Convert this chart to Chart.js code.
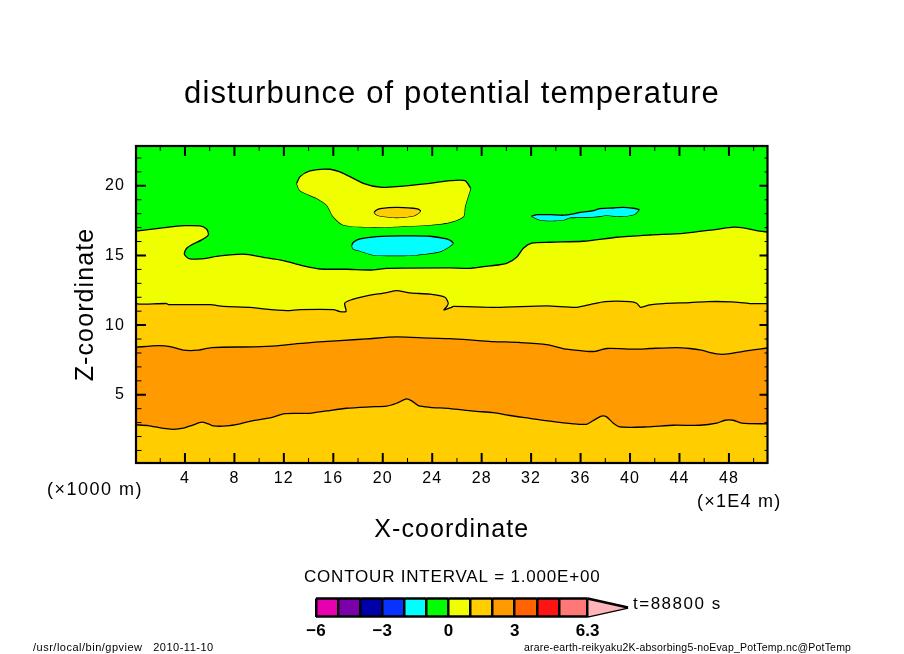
<!DOCTYPE html>
<html>
<head>
<meta charset="utf-8">
<title>disturbunce of potential temperature</title>
<script src="https://cdn.jsdelivr.net/npm/chart.js@4"></script>
<style>
	body { margin: 0; background: #fff; }
	canvas { position: absolute; left: 0; top: 0; }
</style>
</head>
<body>
<canvas id="contour-chart" width="904" height="654"></canvas>
<canvas id="color-bar" width="904" height="654"></canvas>
<script>
const xMinorTicks = [2, 4, 6, 8, 10, 12, 14, 16, 18, 20, 22, 24, 26, 28, 30, 32, 34, 36, 38, 40, 42, 44, 46, 48, 50];
const xTickLabels = [4, 8, 12, 16, 20, 24, 28, 32, 36, 40, 44, 48];
const yMinorTicks = [1, 2, 3, 4, 5, 6, 7, 8, 9, 10, 11, 12, 13, 14, 15, 16, 17, 18, 19, 20, 21, 22];
const yTickLabels = [5, 10, 15, 20];

// contour lines, bottom to top (x in 1E4 m, z in 1000 m)
const line1X = [0, 1.04, 2.12, 3.06, 3.87, 4.68, 5.35, 5.89, 6.3, 7.37, 8.45, 9.53, 10.88, 12.09, 14.11, 15.46, 17.08, 18.97, 20.31, 21.12, 21.93, 22.34, 22.88, 23.82, 25.44, 27.33, 28.94, 30.29, 31.91, 33.53, 35.41, 36.49, 37.03, 37.7, 38.11, 38.65, 39.19, 41.35, 43.5, 45.66, 47.01, 47.68, 48.36, 49.03, 51.2];
const line1Z = [2.84, 2.79, 2.6, 2.52, 2.6, 2.84, 3.03, 2.91, 2.76, 2.76, 2.91, 3.15, 3.34, 3.65, 3.67, 3.84, 4.03, 4.13, 4.18, 4.39, 4.7, 4.56, 4.22, 4.1, 4.01, 3.82, 3.72, 3.51, 3.31, 3.1, 2.91, 2.88, 3.15, 3.46, 3.41, 2.96, 2.69, 2.69, 2.81, 2.81, 2.96, 3.17, 3.17, 2.96, 2.91];

const line2X = [0, 1.85, 2.79, 3.87, 5.08, 6.16, 9.53, 11.42, 13.04, 15.19, 16.54, 18.7, 21.12, 23.82, 25.44, 27.73, 28.94, 31.1, 33.25, 34.87, 36.49, 37.17, 38.11, 40.5, 41.61, 43.77, 44.85, 45.66, 47.01, 47.95, 49.16, 51.2];
const line2Z = [8.41, 8.53, 8.46, 8.2, 8.2, 8.39, 8.44, 8.51, 8.67, 8.82, 8.89, 9.01, 9.15, 9.06, 9.03, 8.89, 8.82, 8.75, 8.6, 8.27, 8.12, 8.12, 8.32, 8.27, 8.32, 8.39, 8.32, 8.22, 7.93, 7.93, 8.12, 8.36];

const line3X = [0, 0.36, 2.52, 2.66, 6.03, 7.1, 9.26, 10.34, 12.23, 13.31, 16, 16.54, 17.03, 16.92, 17.49, 18.43, 20.31, 21.12, 22.2, 23.82, 25.03, 25.3, 25.17, 24.95, 25.57, 25.71, 29.2, 33.26, 35.69, 36.76, 37.98, 40, 40.54, 40.86, 41.6, 42.69, 44.85, 46.33, 48.22, 49.7, 51.2];
const line3Z = [11.57, 11.5, 11.55, 11.47, 11.47, 11.35, 11.28, 11.16, 11.04, 11.11, 11.11, 10.97, 10.99, 11.57, 11.83, 12.05, 12.34, 12.48, 12.31, 12.22, 12, 11.57, 11.33, 11.09, 11.28, 11.35, 11.28, 11.38, 11.28, 11.47, 11.69, 11.69, 11.57, 11.28, 11.45, 11.55, 11.62, 11.69, 11.67, 11.55, 11.55];

const line4X = [0, 1.71, 3.06, 4, 5.22, 5.76, 5.89, 5.35, 4.68, 4.14, 3.95, 4.27, 5.22, 6.83, 8.72, 10.34, 11.96, 13.58, 14.92, 17.08, 19.24, 20.31, 25.44, 27.06, 28.67, 30.02, 30.83, 31.37, 32.04, 33.53, 36.22, 38.92, 41.62, 44.31, 47.01, 48.36, 49.17, 50.24, 51.2];
const line4Z = [16.74, 16.93, 17.07, 17.14, 17.12, 16.88, 16.47, 16.12, 15.83, 15.52, 15.11, 14.8, 14.75, 14.97, 15.09, 14.87, 14.63, 14.25, 14.03, 14.01, 13.96, 14.08, 14.11, 14.08, 14.25, 14.44, 14.87, 15.52, 15.88, 15.95, 16.02, 16.31, 16.47, 16.59, 16.88, 17.03, 16.98, 16.79, 16.67];

// closed contours, split into an upper and a lower edge
const warmTopX = [13.04, 13.31, 14.11, 15.73, 16.81, 18.43, 19.78, 21.12, 23.82, 25.44, 26.65, 27.11];
const warmTopZ = [20.18, 20.66, 21.08, 21.19, 20.9, 20.18, 19.9, 19.94, 20.18, 20.37, 20.37, 19.83];
const warmLowX = [13.04, 13.31, 14.65, 15.46, 16, 16.81, 18.97, 21.12, 23.82, 25.44, 26.52, 26.65, 27.11];
const warmLowZ = [20.18, 19.66, 19.11, 18.63, 17.79, 17.19, 17.03, 17.07, 17.19, 17.38, 17.79, 18.51, 19.83];

const coreTopX = [19.29, 19.5, 19.78, 21.12, 22.47, 22.88, 23.07];
const coreTopZ = [18.1, 18.27, 18.37, 18.46, 18.39, 18.32, 18.2];
const coreLowX = [19.29, 19.5, 19.78, 21.12, 22.47, 22.88, 23.07];
const coreLowZ = [18.1, 17.93, 17.84, 17.72, 17.84, 18.03, 18.2];

const coldTopX = [17.49, 17.62, 18.16, 19.5, 21.66, 23.82, 25.17, 25.55, 25.71];
const coldTopZ = [15.71, 15.95, 16.19, 16.36, 16.4, 16.38, 16.19, 16.03, 15.88];
const coldLowX = [17.49, 17.62, 18.16, 19.24, 21.12, 22.74, 24.63, 25.3, 25.71];
const coldLowZ = [15.71, 15.47, 15.33, 15.04, 14.99, 15.04, 15.28, 15.59, 15.88];

const sliverTopX = [32.04, 32.5, 33.53, 34.61, 35.41, 35.95, 37.03, 37.57, 38.65, 39.46, 40.27, 40.75];
const sliverTopZ = [17.82, 17.93, 17.93, 17.89, 17.98, 18.1, 18.22, 18.37, 18.41, 18.46, 18.39, 18.31];
const sliverLowX = [32.04, 32.72, 33.53, 34.61, 35.15, 36.22, 37.3, 38.11, 38.92, 39.73, 40.4, 40.75];
const sliverLowZ = [17.82, 17.55, 17.5, 17.55, 17.72, 17.74, 17.79, 17.89, 17.82, 17.84, 17.98, 18.31];

// color bar
const barLevels = [-6, -5, -4, -3, -2, -1, 0, 1, 2, 3, 4, 5, 6.3];
const barLabels = [-6, -3, 0, 3, 6.3];
const barTip = 8.13;
const barColors = ["#e600af", "#7a00aa", "#0000aa", "#0a32ff", "#00ffff", "#00ff00", "#f0ff00", "#ffcd00", "#ff9b00", "#ff6400", "#ff1414", "#ff7878"];
const tipColor = "#ffb4b9";

const GREEN = "#00ff00";
const CYAN = "#00ffff";
const YELLOW = "#f0ff00";
const GOLD = "#ffcd00";
const ORANGE = "#ff9b00";
const FONT = "'Liberation Sans', sans-serif";

function points(xs, zs) {
	return xs.map((x, i) => ({ x: x, y: zs[i] }));
}

function contour(xs, zs, fill, color) {
	return {
		data: points(xs, zs),
		showLine: true,
		fill: fill,
		backgroundColor: color,
		borderColor: "#000",
		borderWidth: 1.3,
		pointRadius: 0,
		tension: 0.25,
	};
}

// first dataset is painted last
const datasets = [
	contour(coreTopX, coreTopZ, "+1", GOLD),
	contour(coreLowX, coreLowZ, false, GOLD),
	contour(warmTopX, warmTopZ, "+1", YELLOW),
	contour(warmLowX, warmLowZ, false, YELLOW),
	contour(coldTopX, coldTopZ, "+1", CYAN),
	contour(coldLowX, coldLowZ, false, CYAN),
	contour(sliverTopX, sliverTopZ, "+1", CYAN),
	contour(sliverLowX, sliverLowZ, false, CYAN),
	contour(line1X, line1Z, "start", GOLD),
	contour(line2X, line2Z, "start", ORANGE),
	contour(line3X, line3Z, "start", GOLD),
	contour(line4X, line4Z, "start", YELLOW),
];

function text(ctx, str, x, y, size, spacing) {
	ctx.font = size + "px " + FONT;
	ctx.letterSpacing = spacing + "px";
	ctx.textAlign = "left";
	ctx.textBaseline = "middle";
	ctx.fillStyle = "#000";
	ctx.fillText(str, x, y);
}

const framePlugin = {
	id: "frame",
	beforeDraw(chart) {
		// the reference lettering runs wider than any installed font
		chart.ctx.letterSpacing = "1.1px";
	},
	beforeDatasetsDraw(chart) {
		const { ctx, chartArea: a } = chart;
		ctx.fillStyle = GREEN;
		ctx.fillRect(a.left, a.top, a.right - a.left, a.bottom - a.top);
	},
	afterDatasetsDraw(chart) {
		const { ctx, chartArea: a, scales } = chart;
		ctx.save();
		ctx.strokeStyle = "#000";
		scales.x.ticks.forEach((t) => {
			const major = xTickLabels.includes(t.value);
			const px = scales.x.getPixelForValue(t.value);
			const len = major ? 10 : 5;
			ctx.lineWidth = major ? 2 : 1;
			ctx.beginPath();
			ctx.moveTo(px, a.bottom);
			ctx.lineTo(px, a.bottom - len);
			ctx.moveTo(px, a.top);
			ctx.lineTo(px, a.top + len);
			ctx.stroke();
		});
		scales.y.ticks.forEach((t) => {
			const major = yTickLabels.includes(t.value);
			const py = scales.y.getPixelForValue(t.value);
			ctx.lineWidth = major ? 2 : 1;
			ctx.beginPath();
			ctx.moveTo(a.left, py);
			ctx.lineTo(a.left + (major ? 10 : 5.5), py);
			ctx.moveTo(a.right, py);
			ctx.lineTo(a.right - (major ? 8 : 3), py);
			ctx.stroke();
		});
		ctx.lineWidth = 2.2;
		ctx.strokeRect(a.left, a.top, a.right - a.left, a.bottom - a.top);
		ctx.restore();
	},
	afterDraw(chart) {
		const ctx = chart.ctx;
		ctx.save();
		text(ctx, "(\u00d71000 m)", 47, 490, 18, 1.5);
		text(ctx, "(\u00d71E4 m)", 697, 502, 18, 1.25);
		text(ctx, "CONTOUR INTERVAL = 1.000E+00", 304, 577, 17, 0.8);
		text(ctx, "t=88800 s", 633, 604, 17, 1.5);
		text(ctx, "/usr/local/bin/gpview   2010-11-10", 33, 648, 11, 0.5);
		text(ctx, "arare-earth-reikyaku2K-absorbing5-noEvap_PotTemp.nc@PotTemp", 524, 648, 10.5, 0.2);
		ctx.restore();
	},
};

new Chart(document.getElementById("contour-chart"), {
	type: "scatter",
	data: { datasets: datasets },
	plugins: [framePlugin],
	options: {
		responsive: false,
		animation: false,
		events: [],
		plugins: {
			legend: { display: false },
			tooltip: { enabled: false },
			title: {
				display: true,
				text: "disturbunce of potential temperature",
				color: "#000",
				font: { family: FONT, size: 31, weight: "normal", lineHeight: 1.2 },
				padding: { top: 76, bottom: 32.8 },
			},
		},
		scales: {
			x: {
				type: "linear",
				min: 0.04,
				max: 51.12,
				grid: { display: false, drawTicks: false },
				border: { display: false },
				afterBuildTicks: (axis) => { axis.ticks = xMinorTicks.map((v) => ({ value: v })); },
				afterFit: (axis) => { axis.height = 191; axis.paddingLeft = 0; axis.paddingRight = 0; },
				ticks: {
					color: "#000",
					autoSkip: false,
					maxRotation: 0,
					padding: 6,
					font: { family: FONT, size: 16 },
					callback: (v) => (xTickLabels.includes(v) ? v : ""),
				},
				title: {
					display: true,
					text: "X-coordinate",
					color: "#000",
					font: { family: FONT, size: 25 },
					padding: { top: 0, bottom: 109 },
				},
			},
			y: {
				type: "linear",
				min: 0.1,
				max: 22.86,
				grid: { display: false, drawTicks: false },
				border: { display: false },
				afterBuildTicks: (axis) => { axis.ticks = yMinorTicks.map((v) => ({ value: v })); },
				afterFit: (axis) => { axis.width = 136; axis.paddingTop = 0; axis.paddingBottom = 0; },
				ticks: {
					color: "#000",
					autoSkip: false,
					padding: 11,
					font: { family: FONT, size: 16 },
					callback: (v) => (yTickLabels.includes(v) ? v : ""),
				},
				title: {
					display: true,
					text: "Z-coordinate",
					color: "#000",
					font: { family: FONT, size: 25 },
					padding: { top: 71, bottom: 0 },
				},
			},
			// empty axis that keeps the white margin on the right
			margin: {
				position: "right",
				grid: { display: false, drawTicks: false },
				border: { display: false },
				ticks: { display: false },
				afterFit: (axis) => { axis.width = 136.5; axis.paddingTop = 0; axis.paddingBottom = 0; },
			},
		},
	},
});

// color bar, its own chart laid over the same page
const barDatasets = barColors.map((c, i) => ({
	data: [{ x: barLevels[i], y: 1 }, { x: barLevels[i + 1], y: 1 }],
	showLine: true,
	fill: { value: 0 },
	backgroundColor: c,
	borderColor: "#000",
	borderWidth: 2.5,
	pointRadius: 0,
	clip: false,
}));
const lastLevel = barLevels[barLevels.length - 1];
barDatasets.push({
	data: [{ x: lastLevel, y: 1 }, { x: barTip, y: 0.5 }],
	showLine: true,
	fill: "+1",
	backgroundColor: tipColor,
	borderColor: "#000",
	borderWidth: 2.5,
	pointRadius: 0,
	clip: false,
});
barDatasets.push({
	data: [{ x: lastLevel, y: 0 }, { x: barTip, y: 0.5 }],
	showLine: true,
	fill: false,
	borderColor: "#000",
	borderWidth: 2.5,
	pointRadius: 0,
	clip: false,
});

new Chart(document.getElementById("color-bar"), {
	type: "scatter",
	data: { datasets: barDatasets },
	options: {
		responsive: false,
		animation: false,
		events: [],
		layout: { padding: { left: 316, right: 276, top: 598.5 } },
		plugins: { legend: { display: false }, tooltip: { enabled: false } },
		scales: {
			x: {
				type: "linear",
				min: -6,
				max: barTip,
				border: { display: false },
				grid: { z: 1, color: "#000", lineWidth: 2.5, drawTicks: false },
				afterBuildTicks: (axis) => { axis.ticks = barLevels.map((v) => ({ value: v })); },
				afterFit: (axis) => { axis.height = 37.5; axis.paddingLeft = 0; axis.paddingRight = 0; },
				ticks: {
					color: "#000",
					autoSkip: false,
					maxRotation: 0,
					padding: 5,
					font: { family: FONT, size: 17, weight: "bold" },
					callback: (v) => (barLabels.includes(v) ? String(v).replace("-", "\u2212") : ""),
				},
			},
			y: { display: false, min: 0, max: 1 },
		},
	},
	plugins: [{
		id: "barBase",
		afterDatasetsDraw(chart) {
			// bottom edge of the bar, along the level axis
			const { ctx, scales } = chart;
			const y0 = scales.y.getPixelForValue(0);
			ctx.save();
			ctx.strokeStyle = "#000";
			ctx.lineWidth = 2.5;
			ctx.beginPath();
			ctx.moveTo(scales.x.getPixelForValue(barLevels[0]), y0);
			ctx.lineTo(scales.x.getPixelForValue(lastLevel), y0);
			ctx.stroke();
			ctx.restore();
		},
	}],
});
</script>
</body>
</html>
